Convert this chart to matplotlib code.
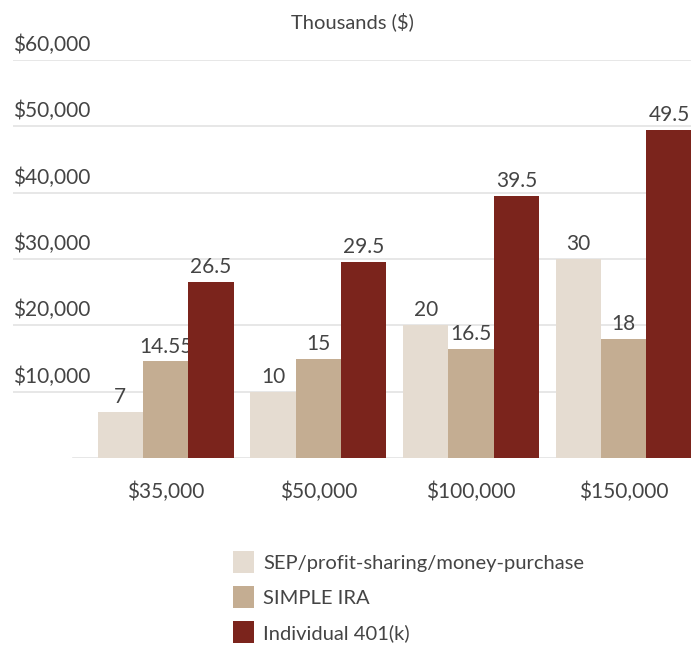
import matplotlib
matplotlib.use("Agg")
import matplotlib.pyplot as plt
import numpy as np
from matplotlib.patches import Patch

categories = ["$35,000", "$50,000", "$100,000", "$150,000"]
series_names = ["SEP/profit-sharing/money-purchase", "SIMPLE IRA", "Individual 401(k)"]
sep_vals = [7, 10, 20, 30]
simple_vals = [14.55, 15, 16.5, 18]
k401_vals = [26.5, 29.5, 39.5, 49.5]
yticks = [10000, 20000, 30000, 40000, 50000, 60000]
colors = ["#E5DCD1", "#C4AD92", "#7B241C"]

plt.rcParams['font.family'] = ['Lato', 'DejaVu Sans']
W, H = 691, 645
fig = plt.figure(figsize=(W/100, H/100), dpi=100)
ax = fig.add_axes([13/W, (H-458)/H, 1 - 13/W, (458-60)/H])

x = np.arange(len(categories))
bw = 0.297
txtc = "#444444"
fw = "normal"
fs = 15
for i, (vals, col) in enumerate(zip([sep_vals, simple_vals, k401_vals], colors)):
    xs = x + (i - 1) * bw
    v = np.array(vals) * 1000
    ax.bar(xs, v, width=bw, color=col, zorder=3, clip_on=True)
    for xx, val, lab in zip(xs, v, vals):
        ax.annotate(f"{lab:g}", (xx, val), xytext=(0, 3.5), textcoords="offset points",
                    ha="center", va="bottom", fontsize=fs, color=txtc, fontweight=fw)

ax.set_xlim(-1.0, 3.44)
ax.set_ylim(0, 60000)
for s in ax.spines.values():
    s.set_visible(False)
ax.set_yticks([])
ax.set_xticks(x)
ax.set_xticklabels(categories, fontsize=fs, color=txtc, fontweight=fw)
ax.tick_params(axis="x", length=0, pad=17)

for yt in yticks:
    ax.axhline(yt, color="#E3E3E3", lw=1.2, zorder=1)
    ax.annotate(f"${yt:,}", (0, yt), xycoords=("axes fraction", "data"),
                xytext=(0, 3.5), textcoords="offset points",
                ha="left", va="bottom", fontsize=fs, color=txtc, fontweight=fw)
ax.axhline(0, xmin=(73-13)/(W-13), color="#E3E3E3", lw=1.2, zorder=1)

ax.annotate("Thousands ($)", (0.5, 1.0), xycoords="axes fraction", xytext=(0, 27.5),
            textcoords="offset points", ha="center", va="center",
            fontsize=14.5, color=txtc, fontweight=fw)

handles = [Patch(facecolor=c, edgecolor="none") for c in colors]
fig.legend(handles, series_names, loc="upper left", bbox_to_anchor=(215/W, 1 - 533/H),
           frameon=False, handlelength=1.03, handleheight=1.3,
           labelspacing=0.65, handletextpad=0.45, labelcolor=txtc,
           prop={"weight": fw, "size": 14.5})

fig.savefig("out.png", dpi=100)
